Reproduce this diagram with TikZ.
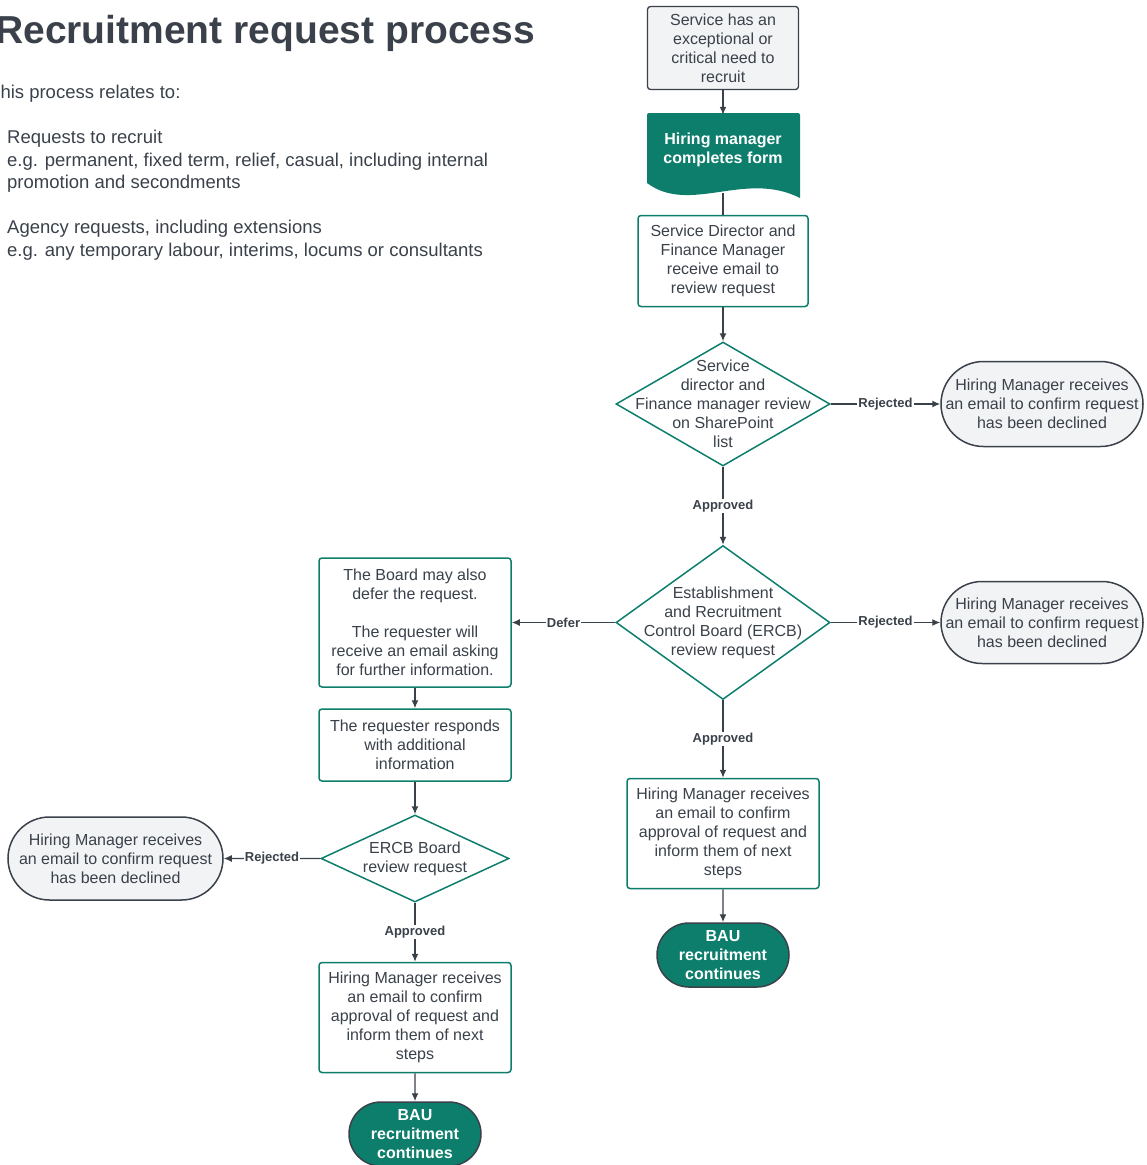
\documentclass[tikz,border=0pt]{standalone}
\usepackage{fontspec}
\setmainfont{Liberation Sans}
\usetikzlibrary{shapes.geometric, shapes.misc, arrows.meta}
\definecolor{inkgray}{RGB}{58,65,74}
\definecolor{lucidteal}{RGB}{13,126,108}
\definecolor{palegray}{RGB}{242,243,245}

\begin{document}
\begin{tikzpicture}
[every node/.style={inner sep=0pt, align=center, text=inkgray, font=\fontsize{16}{19}\selectfont},
 >={Latex[length=8pt, width=7pt]},
 startbox/.style={rectangle, rounded corners=3pt, fill=palegray, draw=inkgray, line width=1.3pt},
 tealbox/.style={rectangle, rounded corners=3pt, fill=white, draw=lucidteal, line width=1.5pt},
 decision/.style={diamond, fill=white, draw=lucidteal, line width=1.5pt},
 declined/.style={rounded rectangle, fill=palegray, draw=inkgray, line width=1.5pt,
   label={center:{Hiring Manager receives\\an email to confirm request\\has been declined}}},
 bau/.style={rounded rectangle, fill=lucidteal, draw=inkgray, line width=1.5pt, text=white, font=\fontsize{16}{19}\selectfont\bfseries},
 flowlabel/.style={fill=white, inner sep=1pt, font=\fontsize{13}{15}\selectfont\bfseries},
 conn/.style={line width=1.3pt, color=inkgray},
 intro/.style={anchor=north west, align=left, font=\fontsize{18.5}{22.5}\selectfont}]
\useasboundingbox (0pt, 0pt) rectangle (1147pt, -1165pt);

% left hand notes
\node (title) [anchor=base west, font=\fontsize{39}{47}\selectfont\bfseries] at (-5pt, -43pt) {Recruitment request process};
\node (relates) [intro] at (-11pt, -85pt) {This process relates to:};
\node (recruit) [intro] at (7pt, -130pt) {Requests to recruit\\e.g. permanent, fixed term, relief, casual, including internal\\promotion and secondments};
\node (agency) [intro] at (7pt, -220pt) {Agency requests, including extensions\\e.g. any temporary labour, interims, locums or consultants};

% main column
\node (start) [startbox, minimum width=151pt, minimum height=83pt] at (723pt, -48pt) {Service has an\\exceptional or\\critical need to\\recruit};
\fill [lucidteal, rounded corners=2pt] (647pt, -183pt) -- (647pt, -113pt) -- (800pt, -113pt) [sharp corners] -- (800pt, -198pt) .. controls (745pt, -170pt) and (690pt, -215pt) .. (647pt, -183pt) -- cycle;
\node (form) [minimum width=153pt, minimum height=70pt, text=white, font=\fontsize{16}{19}\selectfont\bfseries] at (723pt, -150pt) {Hiring manager\\completes form};
\coordinate (formfoot) at (723pt, -193pt);
\node (review) [tealbox, minimum width=170pt, minimum height=91pt] at (723pt, -261pt) {Service Director and\\Finance Manager\\receive email to\\review request};
\node (d1) [decision, minimum width=214pt, minimum height=124pt, label={center:{Service\\director and\\Finance manager review\\on SharePoint\\list}}] at (723pt, -404pt) {};
\node (decl1) [declined, minimum width=202pt, minimum height=85pt] at (1042pt, -404pt) {};
\node (d2) [decision, minimum width=214pt, minimum height=154pt, label={center:{Establishment\\and Recruitment\\Control Board (ERCB)\\review request}}] at (723pt, -622.5pt) {};
\node (decl2) [declined, minimum width=202pt, minimum height=82pt] at (1042pt, -622.5pt) {};
\node (approveR) [tealbox, minimum width=192pt, minimum height=110pt] at (723pt, -833.5pt) {Hiring Manager receives\\an email to confirm\\approval of request and\\inform them of next\\steps};
\node (bauR) [bau, minimum width=132pt, minimum height=64pt] at (723pt, -955pt) {BAU\\recruitment\\continues};

% deferred column
\node (defer) [tealbox, minimum width=192pt, minimum height=129pt] at (415pt, -622.5pt) {The Board may also\\defer the request.\\[19pt]The requester will\\receive an email asking\\for further information.};
\node (respond) [tealbox, minimum width=192pt, minimum height=72pt] at (415pt, -745pt) {The requester responds\\with additional\\information};
\node (d3) [decision, minimum width=188pt, minimum height=87pt, label={center:{ERCB Board\\review request}}] at (415pt, -858.5pt) {};
\node (decl3) [declined, minimum width=215pt, minimum height=83pt] at (115.5pt, -858.5pt) {};
\node (approveL) [tealbox, minimum width=192pt, minimum height=110pt] at (415pt, -1017.5pt) {Hiring Manager receives\\an email to confirm\\approval of request and\\inform them of next\\steps};
\node (bauL) [bau, minimum width=132pt, minimum height=64pt] at (415pt, -1134pt) {BAU\\recruitment\\continues};

\draw [conn, ->] (start) to (form);
\draw [conn] (formfoot) to (review);
\draw [conn, ->] (review) to (d1);
\draw [conn, ->] (d1) to node[flowlabel] {Rejected} (decl1);
\draw [conn, ->] (d1) to node[flowlabel] {Approved} (d2);
\draw [conn, ->] (d2) to node[flowlabel] {Rejected} (decl2);
\draw [conn, ->] (d2) to node[flowlabel] {Defer} (defer);
\draw [conn, ->] (d2) to node[flowlabel] {Approved} (approveR);
\draw [conn, ->] (approveR) to (bauR);
\draw [conn, ->] (defer) to (respond);
\draw [conn, ->] (respond) to (d3);
\draw [conn, ->] (d3) to node[flowlabel] {Rejected} (decl3);
\draw [conn, ->] (d3) to node[flowlabel] {Approved} (approveL);
\draw [conn, ->] (approveL) to (bauL);
\end{tikzpicture}
\end{document}
